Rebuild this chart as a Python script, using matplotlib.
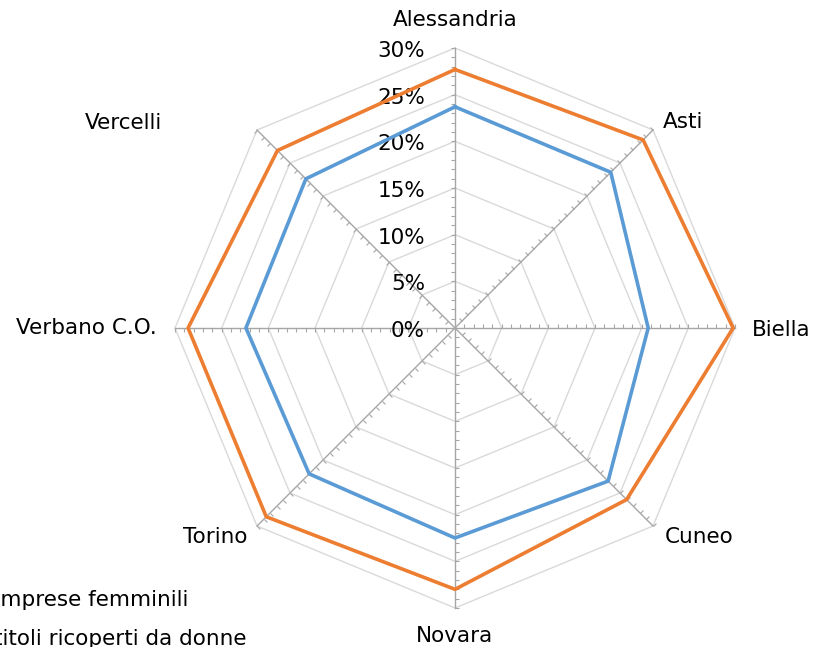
import numpy as np
import matplotlib
matplotlib.use("Agg")
import matplotlib.pyplot as plt
from matplotlib.markers import MarkerStyle
from matplotlib.path import Path
from matplotlib.transforms import Affine2D

categories = ["Alessandria", "Asti", "Biella", "Cuneo", "Novara", "Torino", "Verbano C.O.", "Vercelli"]
imprese = [0.237, 0.236, 0.207, 0.232, 0.225, 0.221, 0.224, 0.226]
titoli = [0.277, 0.285, 0.298, 0.260, 0.280, 0.286, 0.286, 0.269]
series_labels = ["Imprese femminili", "titoli ricoperti da donne"]
rticks = [0.0, 0.05, 0.10, 0.15, 0.20, 0.25, 0.30]
rtick_labels = ["0%", "5%", "10%", "15%", "20%", "25%", "30%"]

plt.rcParams["font.family"] = "DejaVu Sans"
FS = 15.5

fig = plt.figure(figsize=(8.15, 6.47), dpi=100)
ax = fig.add_axes([175 / 815, 39 / 647, 560 / 815, 560 / 647], projection="polar")
ax.set_theta_zero_location("N")
ax.set_theta_direction(-1)
ax.set_ylim(0, 0.30)
ax.grid(False)
ax.spines["polar"].set_visible(False)
ax.set_xticks([])
ax.set_yticks([])
ax.patch.set_visible(False)

n = len(categories)
theta = np.arange(n) * 2 * np.pi / n
closed = np.append(theta, theta[0])

# polygon gridlines
for r in rticks[1:]:
    ax.plot(closed, [r] * (n + 1), color="#d9d9d9", lw=1, zorder=1, clip_on=False)

# spokes with small ticks every 1%
minor = np.arange(0.01, 0.3001, 0.01)
tick_path = Path([(0, 0), (1, 0)])
for th in theta:
    ax.plot([th, th], [0, 0.30], color="#a6a6a6", lw=1, zorder=2, clip_on=False)
    screen_ang = 90 - np.degrees(th)
    mk = MarkerStyle(tick_path, transform=Affine2D().rotate_deg(screen_ang + 90))
    ax.plot([th] * len(minor), minor, ls="none", marker=mk, ms=6, mew=0.8,
            color="#a6a6a6", zorder=2, clip_on=False)

l1, = ax.plot(closed, imprese + imprese[:1], color="#5b9bd5", lw=2.6, zorder=4,
              clip_on=False, label=series_labels[0])
l2, = ax.plot(closed, titoli + titoli[:1], color="#ed7d31", lw=2.6, zorder=5,
              clip_on=False, label=series_labels[1])

# radial labels
for r, lab in zip(rticks, rtick_labels):
    ax.annotate(lab, xy=(0, r), xytext=(-30, -3), textcoords="offset pixels",
                ha="right", va="center", fontsize=FS, color="#000000")

# category labels
offsets = [(0, 28, "center"), (10, 8, "left"), (17, -2, "left"), (12, -11, "left"),
           (0, -28, "center"), (-10, -11, "right"), (-18, 0, "right"), (-95, 7, "right")]
for th, cat, (dx, dy, ha) in zip(theta, categories, offsets):
    ax.annotate(cat, xy=(th, 0.30), xytext=(dx, dy), textcoords="offset pixels",
                ha=ha, va="center", fontsize=FS, color="#000000", annotation_clip=False)

# legend sits partly outside the canvas, as in the original crop
fig.legend(handles=[l1, l2], loc="lower left", bbox_to_anchor=(-66 / 815, -2 / 647),
           frameon=False, fontsize=FS, handlelength=2, handletextpad=0.8,
           borderpad=0, borderaxespad=0, labelspacing=0.9)

fig.savefig("out.png", dpi=100)
